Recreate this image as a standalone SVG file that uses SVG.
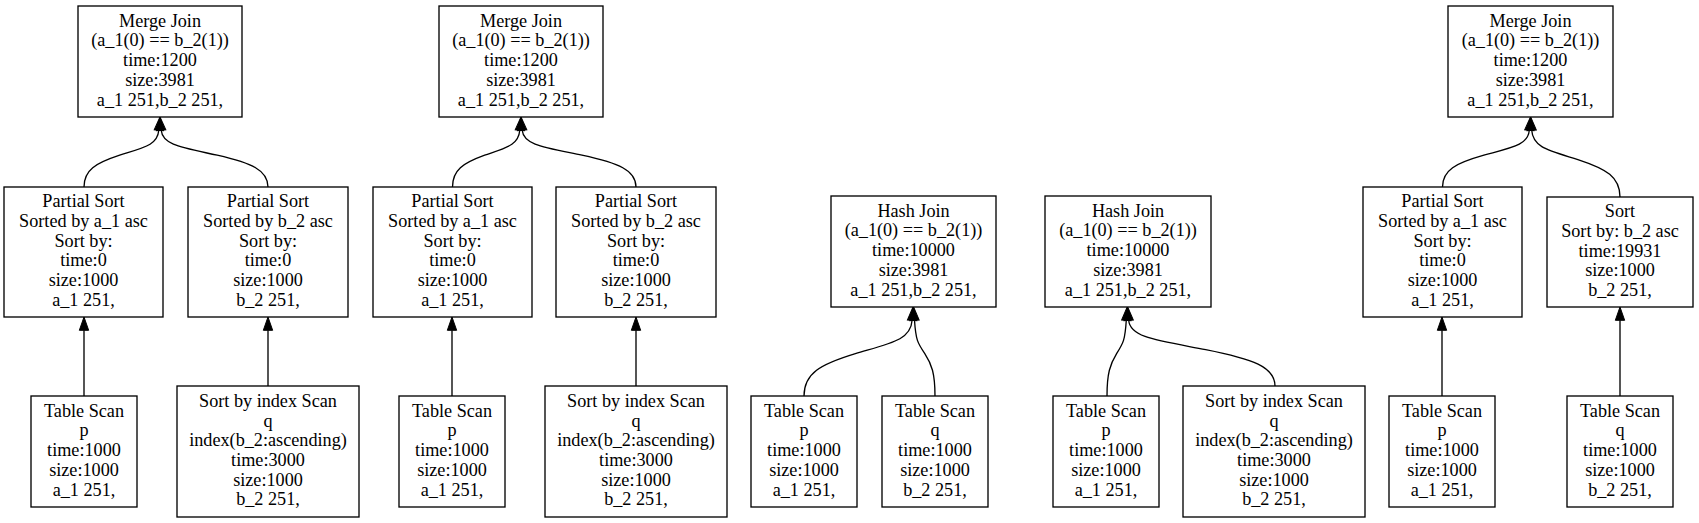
<svg xmlns="http://www.w3.org/2000/svg" width="1699" height="523" viewBox="0 0 1699 523" font-family="Liberation Serif, Times New Roman, DejaVu Serif, serif">
<style>
.box{fill:#fff;stroke:#000;stroke-width:1.33}
.lbl{font-family:'Liberation Serif','Times New Roman','DejaVu Serif',serif;font-size:18.2px;text-anchor:middle;fill:#000}
.edge{fill:none;stroke:#000;stroke-width:1.33}
</style>
<defs>
<marker id="ah" markerUnits="userSpaceOnUse" markerWidth="14" markerHeight="10" refX="0" refY="4.67" orient="auto" overflow="visible">
<path d="M0,0 L13.3,4.67 L0,9.33 Z" fill="#000" stroke="#000" stroke-width="1"/>
</marker>
</defs>
<rect width="1699" height="523" fill="#fff"/>

<g id="connectors">
<path class="edge" marker-end="url(#ah)" d="M84,187 C84,170 95.4,163.2 119.7,155.2 C144.8,147.3 157.5,145 158.8,130.3"/>
<path class="edge" marker-end="url(#ah)" d="M268,187 C268,170 251.8,163.2 217.2,155.2 C181.6,147.3 162.5,145 161.2,130.3"/>
<path class="edge" marker-end="url(#ah)" d="M84,396 L84,330.3"/>
<path class="edge" marker-end="url(#ah)" d="M268,386 L268,330.3"/>
<path class="edge" marker-end="url(#ah)" d="M452.5,187 C452.5,170 462.8,163.2 484.7,155.2 C507.3,147.3 518.5,145 519.8,130.3"/>
<path class="edge" marker-end="url(#ah)" d="M636,187 C636,170 618.75,163.2 581.95,155.2 C544,147.3 523.5,145 522.2,130.3"/>
<path class="edge" marker-end="url(#ah)" d="M452,396 L452,330.3"/>
<path class="edge" marker-end="url(#ah)" d="M636,386 L636,330.3"/>
<path class="edge" marker-end="url(#ah)" d="M804,396 C804,373.3 820.4,364.2 855.4,353.6 C891.4,343 910.8,340 912.1,320.3"/>
<path class="edge" marker-end="url(#ah)" d="M935,396 C935,373.3 931.7,364.2 924.8,353.6 C917.6,343 915.8,340 914.5,320.3"/>
<path class="edge" marker-end="url(#ah)" d="M1107,396 C1107,373.3 1110.1,364.2 1116.6,353.6 C1123.4,343 1125,340 1126.3,320.3"/>
<path class="edge" marker-end="url(#ah)" d="M1275,386 C1275,367 1252.9,359 1205.7,349.6 C1157,340.3 1130,337.6 1128.7,320.3"/>
<path class="edge" marker-end="url(#ah)" d="M1442.5,187 C1442.5,170 1455.7,163.2 1483.9,155.2 C1512.9,147.3 1528,145 1529.3,130.3"/>
<path class="edge" marker-end="url(#ah)" d="M1620,197 C1620,177 1606.6,169 1577.9,159.6 C1548.4,150.3 1533,147.6 1531.7,130.3"/>
<path class="edge" marker-end="url(#ah)" d="M1442,396 L1442,330.3"/>
<path class="edge" marker-end="url(#ah)" d="M1620,396 L1620,320.3"/>
</g>

<g id="merge1">
<rect class="box" x="78" y="6" width="164" height="111"/>
<text class="lbl"><tspan x="160" y="26.7">Merge Join</tspan><tspan x="160" y="46.4">(a_1(0) == b_2(1))</tspan><tspan x="160" y="66.1">time:1200</tspan><tspan x="160" y="85.8">size:3981</tspan><tspan x="160" y="105.5">a_1 251,b_2 251,</tspan></text>
</g>
<g id="psort1">
<rect class="box" x="4" y="187" width="159" height="130"/>
<text class="lbl"><tspan x="83.5" y="207.35">Partial Sort</tspan><tspan x="83.5" y="227.05">Sorted by a_1 asc</tspan><tspan x="83.5" y="246.75">Sort by:</tspan><tspan x="83.5" y="266.45">time:0</tspan><tspan x="83.5" y="286.15">size:1000</tspan><tspan x="83.5" y="305.85">a_1 251,</tspan></text>
</g>
<g id="psort2">
<rect class="box" x="188" y="187" width="160" height="130"/>
<text class="lbl"><tspan x="268" y="207.35">Partial Sort</tspan><tspan x="268" y="227.05">Sorted by b_2 asc</tspan><tspan x="268" y="246.75">Sort by:</tspan><tspan x="268" y="266.45">time:0</tspan><tspan x="268" y="286.15">size:1000</tspan><tspan x="268" y="305.85">b_2 251,</tspan></text>
</g>
<g id="tscan1">
<rect class="box" x="31" y="396" width="106" height="111"/>
<text class="lbl"><tspan x="84" y="416.7">Table Scan</tspan><tspan x="84" y="436.4">p</tspan><tspan x="84" y="456.1">time:1000</tspan><tspan x="84" y="475.8">size:1000</tspan><tspan x="84" y="495.5">a_1 251,</tspan></text>
</g>
<g id="iscan1">
<rect class="box" x="177" y="386" width="182" height="131"/>
<text class="lbl"><tspan x="268" y="406.85">Sort by index Scan</tspan><tspan x="268" y="426.55">q</tspan><tspan x="268" y="446.25">index(b_2:ascending)</tspan><tspan x="268" y="465.95">time:3000</tspan><tspan x="268" y="485.65">size:1000</tspan><tspan x="268" y="505.35">b_2 251,</tspan></text>
</g>

<g id="merge2">
<rect class="box" x="439" y="6" width="164" height="111"/>
<text class="lbl"><tspan x="521" y="26.7">Merge Join</tspan><tspan x="521" y="46.4">(a_1(0) == b_2(1))</tspan><tspan x="521" y="66.1">time:1200</tspan><tspan x="521" y="85.8">size:3981</tspan><tspan x="521" y="105.5">a_1 251,b_2 251,</tspan></text>
</g>
<g id="psort3">
<rect class="box" x="373" y="187" width="159" height="130"/>
<text class="lbl"><tspan x="452.5" y="207.35">Partial Sort</tspan><tspan x="452.5" y="227.05">Sorted by a_1 asc</tspan><tspan x="452.5" y="246.75">Sort by:</tspan><tspan x="452.5" y="266.45">time:0</tspan><tspan x="452.5" y="286.15">size:1000</tspan><tspan x="452.5" y="305.85">a_1 251,</tspan></text>
</g>
<g id="psort4">
<rect class="box" x="556" y="187" width="160" height="130"/>
<text class="lbl"><tspan x="636" y="207.35">Partial Sort</tspan><tspan x="636" y="227.05">Sorted by b_2 asc</tspan><tspan x="636" y="246.75">Sort by:</tspan><tspan x="636" y="266.45">time:0</tspan><tspan x="636" y="286.15">size:1000</tspan><tspan x="636" y="305.85">b_2 251,</tspan></text>
</g>
<g id="tscan2">
<rect class="box" x="399" y="396" width="106" height="111"/>
<text class="lbl"><tspan x="452" y="416.7">Table Scan</tspan><tspan x="452" y="436.4">p</tspan><tspan x="452" y="456.1">time:1000</tspan><tspan x="452" y="475.8">size:1000</tspan><tspan x="452" y="495.5">a_1 251,</tspan></text>
</g>
<g id="iscan2">
<rect class="box" x="545" y="386" width="182" height="131"/>
<text class="lbl"><tspan x="636" y="406.85">Sort by index Scan</tspan><tspan x="636" y="426.55">q</tspan><tspan x="636" y="446.25">index(b_2:ascending)</tspan><tspan x="636" y="465.95">time:3000</tspan><tspan x="636" y="485.65">size:1000</tspan><tspan x="636" y="505.35">b_2 251,</tspan></text>
</g>

<g id="hash1">
<rect class="box" x="831" y="196" width="165" height="111"/>
<text class="lbl"><tspan x="913.5" y="216.7">Hash Join</tspan><tspan x="913.5" y="236.4">(a_1(0) == b_2(1))</tspan><tspan x="913.5" y="256.1">time:10000</tspan><tspan x="913.5" y="275.8">size:3981</tspan><tspan x="913.5" y="295.5">a_1 251,b_2 251,</tspan></text>
</g>
<g id="tscan3">
<rect class="box" x="751" y="396" width="106" height="111"/>
<text class="lbl"><tspan x="804" y="416.7">Table Scan</tspan><tspan x="804" y="436.4">p</tspan><tspan x="804" y="456.1">time:1000</tspan><tspan x="804" y="475.8">size:1000</tspan><tspan x="804" y="495.5">a_1 251,</tspan></text>
</g>
<g id="tscan4">
<rect class="box" x="882" y="396" width="106" height="111"/>
<text class="lbl"><tspan x="935" y="416.7">Table Scan</tspan><tspan x="935" y="436.4">q</tspan><tspan x="935" y="456.1">time:1000</tspan><tspan x="935" y="475.8">size:1000</tspan><tspan x="935" y="495.5">b_2 251,</tspan></text>
</g>

<g id="hash2">
<rect class="box" x="1045" y="196" width="166" height="111"/>
<text class="lbl"><tspan x="1128" y="216.7">Hash Join</tspan><tspan x="1128" y="236.4">(a_1(0) == b_2(1))</tspan><tspan x="1128" y="256.1">time:10000</tspan><tspan x="1128" y="275.8">size:3981</tspan><tspan x="1128" y="295.5">a_1 251,b_2 251,</tspan></text>
</g>
<g id="tscan5">
<rect class="box" x="1053" y="396" width="106" height="111"/>
<text class="lbl"><tspan x="1106" y="416.7">Table Scan</tspan><tspan x="1106" y="436.4">p</tspan><tspan x="1106" y="456.1">time:1000</tspan><tspan x="1106" y="475.8">size:1000</tspan><tspan x="1106" y="495.5">a_1 251,</tspan></text>
</g>
<g id="iscan3">
<rect class="box" x="1183" y="386" width="182" height="131"/>
<text class="lbl"><tspan x="1274" y="406.85">Sort by index Scan</tspan><tspan x="1274" y="426.55">q</tspan><tspan x="1274" y="446.25">index(b_2:ascending)</tspan><tspan x="1274" y="465.95">time:3000</tspan><tspan x="1274" y="485.65">size:1000</tspan><tspan x="1274" y="505.35">b_2 251,</tspan></text>
</g>

<g id="merge3">
<rect class="box" x="1448" y="6" width="165" height="111"/>
<text class="lbl"><tspan x="1530.5" y="26.7">Merge Join</tspan><tspan x="1530.5" y="46.4">(a_1(0) == b_2(1))</tspan><tspan x="1530.5" y="66.1">time:1200</tspan><tspan x="1530.5" y="85.8">size:3981</tspan><tspan x="1530.5" y="105.5">a_1 251,b_2 251,</tspan></text>
</g>
<g id="psort5">
<rect class="box" x="1363" y="187" width="159" height="130"/>
<text class="lbl"><tspan x="1442.5" y="207.35">Partial Sort</tspan><tspan x="1442.5" y="227.05">Sorted by a_1 asc</tspan><tspan x="1442.5" y="246.75">Sort by:</tspan><tspan x="1442.5" y="266.45">time:0</tspan><tspan x="1442.5" y="286.15">size:1000</tspan><tspan x="1442.5" y="305.85">a_1 251,</tspan></text>
</g>
<g id="sort1">
<rect class="box" x="1547" y="197" width="146" height="110"/>
<text class="lbl"><tspan x="1620" y="217.2">Sort</tspan><tspan x="1620" y="236.9">Sort by: b_2 asc</tspan><tspan x="1620" y="256.6">time:19931</tspan><tspan x="1620" y="276.3">size:1000</tspan><tspan x="1620" y="296">b_2 251,</tspan></text>
</g>
<g id="tscan6">
<rect class="box" x="1389" y="396" width="106" height="111"/>
<text class="lbl"><tspan x="1442" y="416.7">Table Scan</tspan><tspan x="1442" y="436.4">p</tspan><tspan x="1442" y="456.1">time:1000</tspan><tspan x="1442" y="475.8">size:1000</tspan><tspan x="1442" y="495.5">a_1 251,</tspan></text>
</g>
<g id="tscan7">
<rect class="box" x="1567" y="396" width="106" height="111"/>
<text class="lbl"><tspan x="1620" y="416.7">Table Scan</tspan><tspan x="1620" y="436.4">q</tspan><tspan x="1620" y="456.1">time:1000</tspan><tspan x="1620" y="475.8">size:1000</tspan><tspan x="1620" y="495.5">b_2 251,</tspan></text>
</g>
</svg>
